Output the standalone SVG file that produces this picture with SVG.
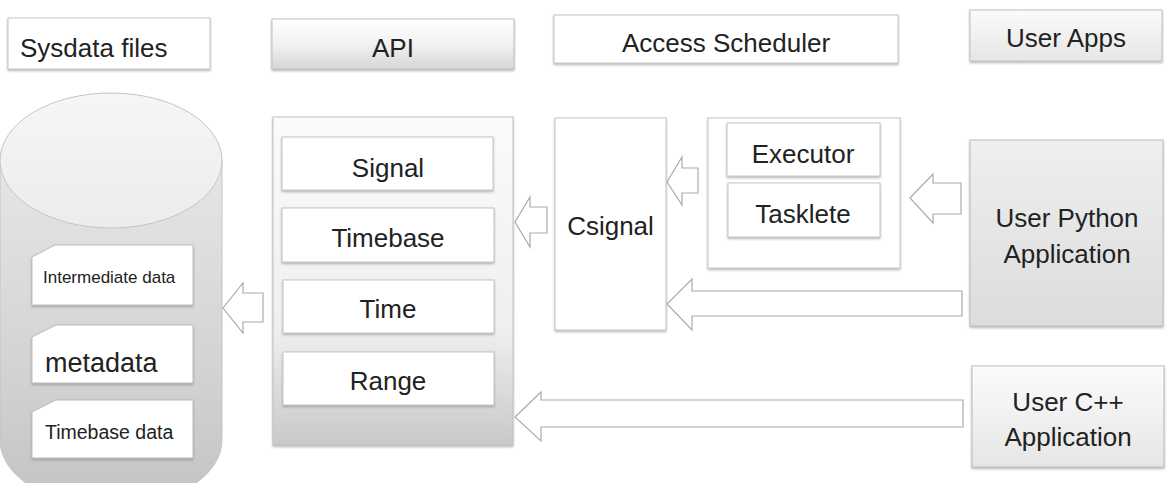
<svg xmlns="http://www.w3.org/2000/svg" width="1174" height="483" viewBox="0 0 1174 483">
<defs>
<style>
.t{font-family:"Liberation Sans",Arial,sans-serif;fill:#222222;}
.c{text-anchor:middle;}
.box{fill:#ffffff;stroke:#c6c6c6;stroke-width:1;}
.arr{fill:#ffffff;stroke:#ababab;stroke-width:1.2;stroke-linejoin:miter;}
.doc{fill:#ffffff;stroke:#bdbdbd;stroke-width:1;}
</style>
<filter id="sh" x="-10%" y="-10%" width="120%" height="130%">
<feDropShadow dx="0" dy="1.5" stdDeviation="1" flood-color="#7a7a7a" flood-opacity="0.55"/>
</filter>
<linearGradient id="gApi" x1="0" y1="0" x2="0" y2="1">
<stop offset="0" stop-color="#ffffff"/><stop offset="0.5" stop-color="#f2f2f2"/><stop offset="1" stop-color="#d6d6d6"/>
</linearGradient>
<linearGradient id="gCont" x1="0" y1="0" x2="0" y2="1">
<stop offset="0" stop-color="#fbfbfb"/><stop offset="0.65" stop-color="#efefef"/><stop offset="1" stop-color="#c9c9c9"/>
</linearGradient>
<linearGradient id="gPy" x1="0" y1="0" x2="0" y2="1">
<stop offset="0" stop-color="#efefef"/><stop offset="1" stop-color="#dcdcdc"/>
</linearGradient>
<linearGradient id="gCpp" x1="0" y1="0" x2="0" y2="1">
<stop offset="0" stop-color="#fbfbfb"/><stop offset="1" stop-color="#e6e6e6"/>
</linearGradient>
<linearGradient id="gCylTop" x1="0" y1="0" x2="0" y2="1">
<stop offset="0" stop-color="#f6f6f6"/><stop offset="1" stop-color="#ececec"/>
</linearGradient>
<linearGradient id="gCylBody" x1="0" y1="0" x2="0" y2="1">
<stop offset="0" stop-color="#e6e6e6"/><stop offset="0.6" stop-color="#d3d3d3"/><stop offset="1" stop-color="#c3c3c3"/>
</linearGradient>
</defs>
<rect width="1174" height="483" fill="#ffffff"/>

<g id="hdr-sysdata">
<rect class="box" x="8" y="18" width="202" height="51" filter="url(#sh)"/>
<text class="t" x="20" y="57" font-size="26">Sysdata files</text>
</g>
<g id="hdr-api">
<rect x="272" y="19" width="242" height="50" fill="url(#gApi)" stroke="#c2c2c2" filter="url(#sh)"/>
<text class="t c" x="393" y="57" font-size="26">API</text>
</g>
<g id="hdr-access">
<rect class="box" x="554" y="15" width="344" height="48" filter="url(#sh)"/>
<text class="t c" x="726" y="52" font-size="26">Access Scheduler</text>
</g>
<g id="hdr-userapps">
<rect x="970" y="10" width="192" height="51" fill="url(#gCpp)" stroke="#c2c2c2" filter="url(#sh)"/>
<text class="t c" x="1066" y="47" font-size="26">User Apps</text>
</g>

<g id="sysdata-cylinder">
<path d="M0,160 L0,440 A111,67 0 0 0 222,440 L222,160 Z" fill="url(#gCylBody)" stroke="#c4c4c4"/>
<ellipse cx="111" cy="160.5" rx="111" ry="67.5" fill="url(#gCylTop)" stroke="#c4c4c4"/>
</g>
<g id="doc-intermediate">
<path class="doc" d="M32,257 L55,245 L193,245 L193,305 L32,305 Z" filter="url(#sh)"/>
<text class="t" x="43" y="283" font-size="17">Intermediate data</text>
</g>
<g id="doc-metadata">
<path class="doc" d="M32,337 L56,325 L193,325 L193,383 L32,383 Z" filter="url(#sh)"/>
<text class="t" x="45" y="372" font-size="27">metadata</text>
</g>
<g id="doc-timebase">
<path class="doc" d="M32,412 L56,400 L193,400 L193,458 L32,458 Z" filter="url(#sh)"/>
<text class="t" x="45" y="439" font-size="19.5">Timebase data</text>
</g>

<g id="api-container">
<rect x="273" y="117" width="240" height="328" fill="url(#gCont)" stroke="#c2c2c2" filter="url(#sh)"/>
</g>
<g id="api-signal">
<rect class="box" x="282" y="137" width="211" height="53" filter="url(#sh)"/>
<text class="t c" x="388" y="177" font-size="26">Signal</text>
</g>
<g id="api-timebase">
<rect class="box" x="282" y="208" width="212" height="54" filter="url(#sh)"/>
<text class="t c" x="388" y="247" font-size="26">Timebase</text>
</g>
<g id="api-time">
<rect class="box" x="283" y="280" width="211" height="53" filter="url(#sh)"/>
<text class="t c" x="388" y="318" font-size="26">Time</text>
</g>
<g id="api-range">
<rect class="box" x="283" y="352" width="211" height="53" filter="url(#sh)"/>
<text class="t c" x="388" y="390" font-size="26">Range</text>
</g>

<g id="csignal">
<rect class="box" x="555" y="118" width="111" height="212" filter="url(#sh)"/>
<text class="t c" x="610.5" y="235" font-size="26">Csignal</text>
</g>
<g id="scheduler-container">
<rect class="box" x="708" y="118" width="192" height="150" filter="url(#sh)"/>
</g>
<g id="executor">
<rect class="box" x="727" y="123" width="153" height="53" filter="url(#sh)"/>
<text class="t c" x="803" y="163" font-size="26">Executor</text>
</g>
<g id="tasklete">
<rect class="box" x="728" y="183" width="152" height="54" filter="url(#sh)"/>
<text class="t c" x="803" y="223" font-size="26">Tasklete</text>
</g>

<g id="user-python">
<rect x="970" y="140" width="193" height="186" fill="url(#gPy)" stroke="#bdbdbd" filter="url(#sh)"/>
<text class="t c" x="1067" y="227" font-size="26">User Python</text>
<text class="t c" x="1067" y="263" font-size="26">Application</text>
</g>
<g id="user-cpp">
<rect x="972" y="366" width="192" height="101" fill="url(#gCpp)" stroke="#bdbdbd" filter="url(#sh)"/>
<text class="t c" x="1068" y="411" font-size="26">User C++</text>
<text class="t c" x="1068" y="446" font-size="26">Application</text>
</g>

<g id="connectors">
<path class="arr" d="M223,308 L243,283 L243,293 L263,293 L263,322 L243,322 L243,333 Z"/>
<path class="arr" d="M515,222 L530,197 L530,207 L547,207 L547,233 L530,233 L530,247 Z"/>
<path class="arr" d="M667,182 L682,157 L682,168 L698,168 L698,193 L682,193 L682,205 Z"/>
<path class="arr" d="M910,198 L933,174 L933,183 L961,183 L961,214 L933,214 L933,223 Z"/>
<path class="arr" d="M667,304 L692,279 L692,291 L962,291 L962,316 L692,316 L692,330 Z"/>
<path class="arr" d="M515,417 L541,392 L541,400 L963,400 L963,427 L541,427 L541,441 Z"/>
</g>
</svg>
